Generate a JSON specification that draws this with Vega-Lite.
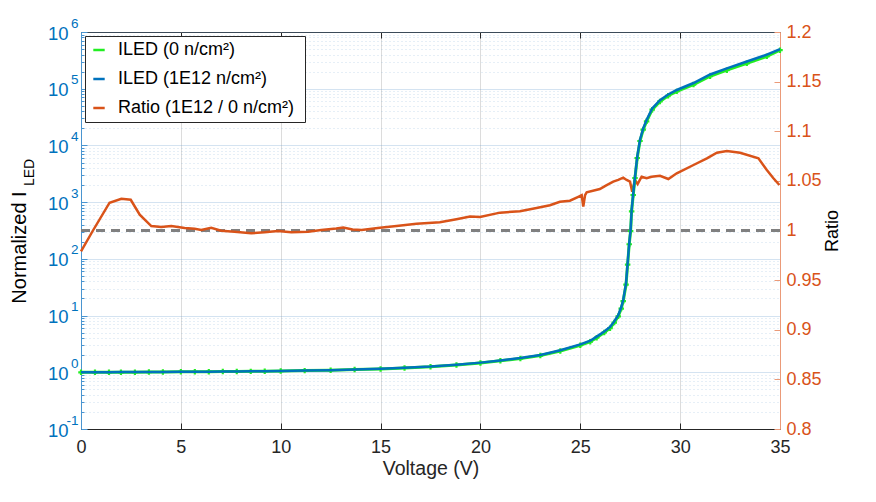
{
  "$schema": "https://vega.github.io/schema/vega-lite/v6.json",
  "width": 699,
  "height": 397,
  "autosize": "none",
  "padding": {"left": 81, "top": 32, "right": 96, "bottom": 73},
  "background": "white",
  "config": {
    "font": "Liberation Sans",
    "view": {"stroke": "#262626", "strokeWidth": 1},
    "axis": {"labelFont": "Liberation Sans", "titleFont": "Liberation Sans", "labelFontSize": 17, "titleFontSize": 18, "titleFontWeight": "normal", "labelFlush": false, "labelOverlap": false},
    "legend": {"labelFont": "Liberation Sans"}
  },
  "datasets": {
    "iled": [
      {"v": 0, "i1": 1.0, "i0": 1.0},
      {"v": 0.7, "i1": 1.0, "i0": 1.0},
      {"v": 1.4, "i1": 1.005, "i0": 1.0},
      {"v": 2, "i1": 1.01, "i0": 1.0},
      {"v": 2.7, "i1": 1.01, "i0": 1.005},
      {"v": 3.4, "i1": 1.012, "i0": 1.01},
      {"v": 4.1, "i1": 1.015, "i0": 1.013},
      {"v": 5, "i1": 1.02, "i0": 1.02},
      {"v": 5.7, "i1": 1.022, "i0": 1.022},
      {"v": 6.4, "i1": 1.025, "i0": 1.025},
      {"v": 7.1, "i1": 1.03, "i0": 1.03},
      {"v": 7.8, "i1": 1.034, "i0": 1.034},
      {"v": 8.5, "i1": 1.038, "i0": 1.038},
      {"v": 9.2, "i1": 1.043, "i0": 1.043},
      {"v": 10, "i1": 1.05, "i0": 1.05},
      {"v": 11.2, "i1": 1.07, "i0": 1.07},
      {"v": 12.5, "i1": 1.09, "i0": 1.09},
      {"v": 13.7, "i1": 1.12, "i0": 1.118},
      {"v": 15, "i1": 1.15, "i0": 1.147},
      {"v": 16.2, "i1": 1.2, "i0": 1.193},
      {"v": 17.5, "i1": 1.26, "i0": 1.25},
      {"v": 18.8, "i1": 1.36, "i0": 1.345},
      {"v": 20, "i1": 1.48, "i0": 1.46},
      {"v": 21, "i1": 1.62, "i0": 1.59},
      {"v": 22, "i1": 1.78, "i0": 1.745},
      {"v": 23, "i1": 2.02, "i0": 1.97},
      {"v": 24, "i1": 2.45, "i0": 2.38},
      {"v": 25, "i1": 3.1, "i0": 3.0},
      {"v": 25.5, "i1": 3.6, "i0": 3.46},
      {"v": 25.82, "i1": 4.25, "i0": 4.08},
      {"v": 26.2, "i1": 5.25, "i0": 5.03},
      {"v": 26.49, "i1": 6.3, "i0": 6.0},
      {"v": 26.7, "i1": 7.9, "i0": 7.53},
      {"v": 26.9, "i1": 10.2, "i0": 9.7},
      {"v": 27.05, "i1": 14, "i0": 13.3},
      {"v": 27.15, "i1": 19, "i0": 18},
      {"v": 27.29, "i1": 37, "i0": 35},
      {"v": 27.37, "i1": 83, "i0": 79},
      {"v": 27.45, "i1": 190, "i0": 181},
      {"v": 27.52, "i1": 325, "i0": 309},
      {"v": 27.57, "i1": 720, "i0": 690},
      {"v": 27.65, "i1": 1400, "i0": 1335},
      {"v": 27.74, "i1": 2800, "i0": 2665},
      {"v": 27.85, "i1": 6300, "i0": 6000},
      {"v": 27.99, "i1": 12600, "i0": 11970},
      {"v": 28.15, "i1": 20000, "i0": 19000},
      {"v": 28.32, "i1": 28000, "i0": 26600},
      {"v": 28.6, "i1": 45000, "i0": 42700},
      {"v": 28.99, "i1": 63000, "i0": 59700},
      {"v": 29.4, "i1": 79000, "i0": 75100},
      {"v": 29.83, "i1": 95000, "i0": 89800},
      {"v": 30.67, "i1": 126000, "i0": 118200},
      {"v": 31.5, "i1": 178000, "i0": 166000},
      {"v": 32.34, "i1": 229000, "i0": 212000},
      {"v": 33.34, "i1": 302000, "i0": 280000},
      {"v": 34.34, "i1": 398000, "i0": 372000},
      {"v": 35, "i1": 500000, "i0": 478000}
    ],
    "ratio": [
      {"v": 0.0, "r": 0.979}, {"v": 0.6, "r": 1.0}, {"v": 1.43, "r": 1.028}, {"v": 2.02, "r": 1.032},
      {"v": 2.49, "r": 1.031}, {"v": 2.94, "r": 1.016}, {"v": 3.52, "r": 1.0045}, {"v": 4.02, "r": 1.0035},
      {"v": 4.52, "r": 1.0045}, {"v": 5.19, "r": 1.0025}, {"v": 5.69, "r": 1.0018}, {"v": 6.02, "r": 1.0005},
      {"v": 6.52, "r": 1.0028}, {"v": 7.02, "r": 0.9998}, {"v": 7.69, "r": 0.9988}, {"v": 8.52, "r": 0.9972},
      {"v": 9.19, "r": 0.9982}, {"v": 9.86, "r": 0.9995}, {"v": 10.53, "r": 0.9982}, {"v": 11.37, "r": 0.9988},
      {"v": 12.03, "r": 1.0005}, {"v": 12.78, "r": 1.002}, {"v": 13.13, "r": 1.003}, {"v": 13.6, "r": 1.001},
      {"v": 14.05, "r": 1.0005}, {"v": 14.97, "r": 1.0028}, {"v": 15.8, "r": 1.0045}, {"v": 16.8, "r": 1.0068},
      {"v": 17.97, "r": 1.0083}, {"v": 18.8, "r": 1.0113}, {"v": 19.48, "r": 1.014}, {"v": 19.98, "r": 1.0136},
      {"v": 20.98, "r": 1.018}, {"v": 21.98, "r": 1.0193}, {"v": 22.81, "r": 1.0227}, {"v": 23.48, "r": 1.0254},
      {"v": 23.98, "r": 1.029}, {"v": 24.48, "r": 1.03}, {"v": 24.9, "r": 1.034}, {"v": 25.07, "r": 1.0357},
      {"v": 25.15, "r": 1.024}, {"v": 25.24, "r": 1.0357}, {"v": 25.32, "r": 1.0385}, {"v": 25.98, "r": 1.0418},
      {"v": 26.3, "r": 1.0455}, {"v": 26.65, "r": 1.0492}, {"v": 26.9, "r": 1.051}, {"v": 27.15, "r": 1.0532},
      {"v": 27.32, "r": 1.0509}, {"v": 27.49, "r": 1.0492}, {"v": 27.6, "r": 1.039}, {"v": 27.74, "r": 1.0509},
      {"v": 27.87, "r": 1.0468}, {"v": 28.07, "r": 1.0542}, {"v": 28.32, "r": 1.0526}, {"v": 28.57, "r": 1.0542},
      {"v": 28.99, "r": 1.0552}, {"v": 29.41, "r": 1.0519}, {"v": 29.83, "r": 1.0576}, {"v": 30.67, "r": 1.066},
      {"v": 31.34, "r": 1.0727}, {"v": 31.84, "r": 1.0784}, {"v": 32.34, "r": 1.0801}, {"v": 33.0, "r": 1.0784},
      {"v": 33.92, "r": 1.0727}, {"v": 34.34, "r": 1.061}, {"v": 34.67, "r": 1.0526}, {"v": 34.97, "r": 1.0458}
    ]
  },
  "layer": [
    {
      "data": {"name": "ratio"},
      "layer": [
        {
          "mark": {"type": "rule", "color": "#808080", "strokeWidth": 1.6, "strokeDash": [9, 6]},
          "encoding": {"y": {"datum": 1, "type": "quantitative"}}
        },
        {
          "mark": {"type": "line", "strokeWidth": 2.5, "interpolate": "linear"},
          "encoding": {
            "x": {
              "field": "v", "type": "quantitative",
              "scale": {"domain": [0, 35], "nice": false, "zero": false},
              "axis": {"orient": "top", "labels": false, "title": null, "grid": false, "domain": false, "values": [0, 5, 10, 15, 20, 25, 30, 35], "tickSize": -6, "tickColor": "#262626"}
            },
            "y": {
              "field": "r", "type": "quantitative",
              "scale": {"domain": [0.8, 1.2], "nice": false, "zero": false},
              "axis": {
                "orient": "right", "title": "Ratio", "titleColor": "black", "titleFontSize": 18, "titlePadding": 20, "titleAngle": 270,
                "values": [0.8, 0.85, 0.9, 0.95, 1, 1.05, 1.1, 1.15, 1.2], "format": ".3~g",
                "labelColor": "#D95319", "labelFontSize": 18, "domainColor": "#eb9a78", "tickColor": "#eb9a78", "tickSize": -6, "labelPadding": 12, "grid": false
              }
            },
            "color": {"datum": "Ratio (1E12 / 0  n/cm²)"}
          }
        }
      ]
    },
    {
      "data": {"name": "iled"},
      "encoding": {
        "x": {
          "field": "v", "type": "quantitative",
          "scale": {"domain": [0, 35], "nice": false, "zero": false},
          "axis": {
            "orient": "bottom", "title": "Voltage (V)", "titleColor": "#262626", "titleFontSize": 19.5, "titlePadding": 3,
            "values": [0, 5, 10, 15, 20, 25, 30, 35], "labelColor": "#262626", "labelFontSize": 18, "domainColor": "#262626", "tickColor": "#262626",
            "tickSize": -6, "labelPadding": 15, "grid": true, "gridColor": "#dcdcdc", "gridWidth": 1
          }
        }
      },
      "layer": [
        {
          "mark": {"type": "line", "strokeWidth": 3},
          "encoding": {
            "y": {
              "field": "i0", "type": "quantitative",
              "scale": {"type": "log", "domain": [0.1, 1000000], "nice": false},
              "axis": {
                "orient": "left", "title": "Normalized I", "titleColor": "black", "titleFontSize": 20,
                "titleX": -56, "titleY": 215, "titleBaseline": "alphabetic", "titleAngle": 270,
                "values": [0.1,0.2,0.3,0.4,0.5,0.6,0.7,0.8,0.9,1,2,3,4,5,6,7,8,9,10,20,30,40,50,60,70,80,90,100,200,300,400,500,600,700,800,900,1000,2000,3000,4000,5000,6000,7000,8000,9000,10000,20000,30000,40000,50000,60000,70000,80000,90000,100000,200000,300000,400000,500000,600000,700000,800000,900000,1000000],
                "labelExpr": "(abs(log(datum.value)/LN10 - round(log(datum.value)/LN10)) > 0.001) ? '' : (datum.value < 0.5 ? '10\u00a0' : '10')",
                "labelColor": "#0072BD", "domainColor": "#4a95d0", "tickColor": "#4a95d0", "labelFontSize": 18.5, "labelOffset": 1,
                "tickSize": {"condition": {"test": "abs(log(datum.value)/LN10 - round(log(datum.value)/LN10)) > 0.001", "value": -3}, "value": -6},
                "labelPadding": 19,
                "grid": true, "gridColor": "#6fa3cf",
                "gridOpacity": {"condition": {"test": "abs(log(datum.value)/LN10 - round(log(datum.value)/LN10)) > 0.001", "value": 0.35}, "value": 0.3},
                "gridDash": {"condition": {"test": "abs(log(datum.value)/LN10 - round(log(datum.value)/LN10)) > 0.001", "value": [1, 3]}, "value": []}
              }
            },
            "color": {
              "datum": "ILED (0 n/cm²)",
              "scale": {"domain": ["ILED (0 n/cm²)", "ILED (1E12 n/cm²)", "Ratio (1E12 / 0  n/cm²)"], "range": ["#22ee22", "#0072BD", "#D95319"]},
              "legend": {
                "orient": "top-left", "offset": 4, "title": null, "labelFontSize": 18, "labelColor": "black", "labelLimit": 400,
                "symbolType": "stroke", "symbolStrokeWidth": 2.5, "symbolSize": 130, "labelOffset": 10,
                "strokeColor": "#262626", "fillColor": "white", "padding": 5, "rowPadding": 11
              }
            }
          }
        },
        {
          "mark": {"type": "point", "shape": "cross", "size": 30, "filled": true, "color": "#22ee22", "opacity": 1},
          "encoding": {
            "y": {
              "field": "i0", "type": "quantitative",
              "axis": {
                "orient": "left", "title": "LED", "titleColor": "black", "titleFontSize": 14,
                "titleX": -48, "titleY": 140, "titleBaseline": "alphabetic", "titleAngle": 270,
                "values": [0.1, 1, 10, 100, 1000, 10000, 100000, 1000000],
                "labelExpr": "['-1','0','1','2','3','4','5','6'][round(log(datum.value)/LN10)+1]",
                "labelColor": "#0072BD", "labelFontSize": 13.5, "labelOffset": -9, "labelPadding": 3,
                "ticks": false, "tickSize": 0, "domain": false, "grid": false
              }
            }
          }
        },
        {
          "mark": {"type": "line", "strokeWidth": 2.5},
          "encoding": {
            "y": {"field": "i1", "type": "quantitative", "axis": null},
            "color": {"datum": "ILED (1E12 n/cm²)"}
          }
        }
      ],
      "resolve": {"axis": {"y": "independent"}}
    }
  ],
  "resolve": {"scale": {"y": "independent"}, "axis": {"x": "independent"}}
}
